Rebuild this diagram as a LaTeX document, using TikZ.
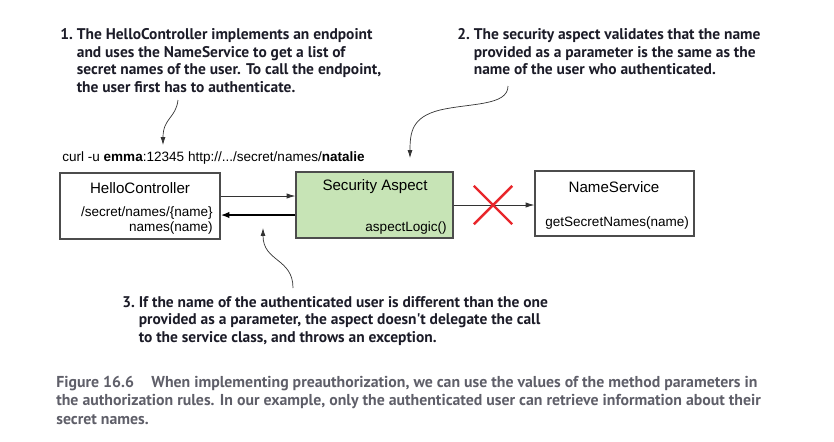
\documentclass[tikz,border=0pt]{standalone}
\usepackage{fontspec}
\setmainfont{Liberation Sans}
\newfontfamily\notefont{PT Sans}
\usetikzlibrary{positioning, arrows.meta, shapes.misc}
\definecolor{aspectgreen}{RGB}{199,228,182}
\definecolor{crossred}{RGB}{232,38,43}
\definecolor{notetext}{RGB}{28,28,40}
\definecolor{captiongray}{RGB}{95,95,105}

\begin{document}
\begin{tikzpicture}[
    x=0.02cm, y=-0.02cm,
    box/.style={rectangle, draw=black!70, line width=0.6pt, minimum width=3.2cm, minimum height=1.32cm, inner sep=0pt},
    title/.style={font=\fontsize{8.6}{10}\selectfont, inner sep=0pt},
    meth/.style={font=\fontsize{7.7}{9}\selectfont, inner sep=0pt},
    note/.style={font=\notefont\bfseries\fontsize{8.8}{10}\selectfont, text=notetext, inner sep=0pt, anchor=base west},
    caption/.style={font=\notefont\bfseries\fontsize{9}{10.8}\selectfont, text=captiongray, inner sep=0pt, anchor=base west},
    arr/.style={-{Latex[length=5pt, width=3pt]}, line width=0.5pt, draw=black!80},
    back/.style={-{Latex[length=5pt, width=3.6pt]}, line width=1.4pt, draw=black},
    pointer/.style={-{Latex[length=4.5pt, width=2.8pt]}, line width=0.4pt, draw=black!80},
    cross/.style={cross out, draw=crossred, line width=1.4pt, minimum size=0.72cm, inner sep=0pt}
]
    \useasboundingbox (0,0) rectangle (834,441);

    \node[note] (n1) at (60,39.5) {\begin{tabular}[t]{@{}r@{\ }l@{}}
        1. & The HelloController implements an endpoint\\
           & and uses the NameService to get a list of\\
           & secret names of the user. To call the endpoint,\\
           & the user first has to authenticate.
    \end{tabular}};
    \node[note] (n2) at (457,39.5) {\begin{tabular}[t]{@{}r@{\ }l@{}}
        2. & The security aspect validates that the name\\
           & provided as a parameter is the same as the\\
           & name of the user who authenticated.
    \end{tabular}};
    \node[note] (n3) at (122,307) {\begin{tabular}[t]{@{}r@{\ }l@{}}
        3. & If the name of the authenticated user is different than the one\\
           & provided as a parameter, the aspect doesn't delegate the call\\
           & to the service class, and throws an exception.
    \end{tabular}};

    \node[meth, anchor=west] (curl) at (62,158) {curl -u \textbf{emma}:12345 http://.../secret/names/\textbf{natalie}};

    \node[box] (hello) at (140,206) {};
    \node[title] (hellotitle) at (140,188) {HelloController};
    \node[meth, anchor=east] (hellopath) at (213,213) {/secret/names/\{name\}};
    \node[meth, anchor=east] (hellometh) at (213,228) {names(name)};

    \node[box, fill=aspectgreen, minimum width=3.14cm] (aspect) at (374.5,205) {};
    \node[title] (aspecttitle) at (375,187) {Security Aspect};
    \node[meth, anchor=east] (aspectmeth) at (447,228) {aspectLogic()};

    \node[box, minimum width=3.18cm, minimum height=1.3cm] (names) at (614.5,203.5) {};
    \node[title] (namestitle) at (614,187) {NameService};
    \node[meth, anchor=west] (namesmeth) at (545,223) {getSecretNames(name)};

    \draw[arr] ([yshift=0.2cm]hello.east) -- ([yshift=0.2cm]hello.east -| aspect.west);
    \draw[back] ([yshift=-0.2cm]aspect.west) -- ([yshift=-0.2cm]aspect.west -| hello.east);
    \draw[arr] (aspect.east) -- (aspect.east -| names.west);
    \node[cross] (stop) at (493,205) {};

    \coordinate (p1) at (178,100);
    \coordinate (t1) at (163,145);
    \coordinate (p2) at (508,86);
    \coordinate (t2) at (410,158);
    \coordinate (p3) at (293,288);
    \coordinate (t3) at (263,228);
    \draw[pointer] (p1) .. controls (176,118) and (163,118) .. (t1);
    \draw[pointer] (p2) .. controls (508,106) and (470,103) .. (440,110) .. controls (412,117) and (410,132) .. (t2);
    \draw[pointer] (p3) .. controls (293,258) and (263,262) .. (t3);

    \node[caption] (cap) at (56,387) {\begin{tabular}[t]{@{}l@{}}
        Figure 16.6\hspace{1.1em}When implementing preauthorization, we can use the values of the method parameters in\\
        the authorization rules. In our example, only the authenticated user can retrieve information about their\\
        secret names.
    \end{tabular}};
\end{tikzpicture}
\end{document}
